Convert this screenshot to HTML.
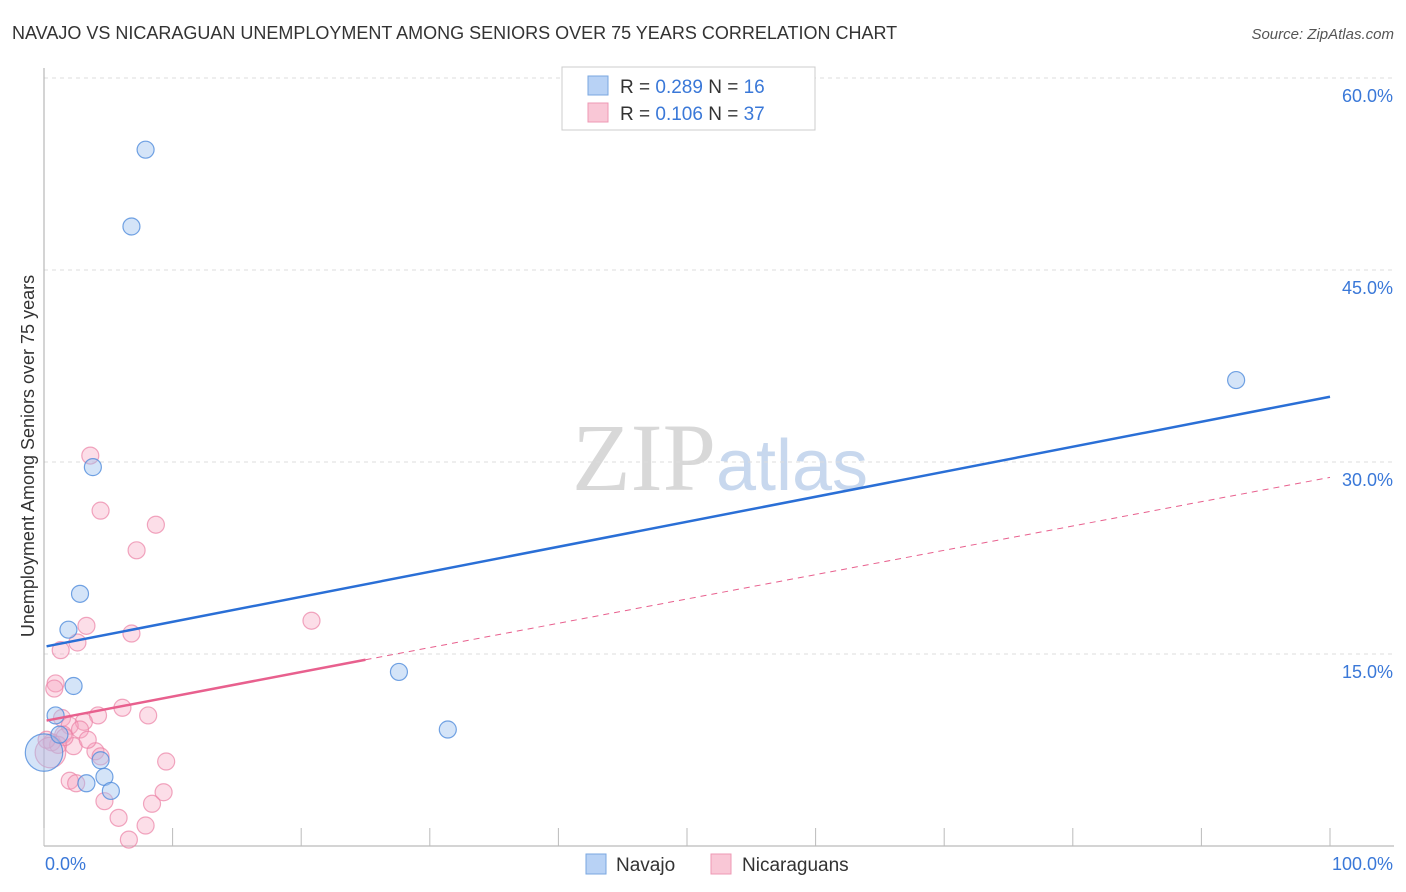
<!DOCTYPE html>
<html><head><meta charset="utf-8"><style>
body{margin:0;background:#fff;font-family:"Liberation Sans",sans-serif;}
#wrap{position:relative;width:1406px;height:892px;overflow:hidden;}
</style></head><body>
<div id="wrap">
<svg id="svg" width="1406" height="892" xmlns="http://www.w3.org/2000/svg">
<text x="12" y="39" font-size="18" fill="#333">NAVAJO VS NICARAGUAN UNEMPLOYMENT AMONG SENIORS OVER 75 YEARS CORRELATION CHART</text>
<text x="1394" y="39" font-size="15" fill="#555" font-style="italic" text-anchor="end">Source: ZipAtlas.com</text>
<text x="34" y="456" font-size="18" fill="#333" text-anchor="middle" transform="rotate(-90 34 456)">Unemployment Among Seniors over 75 years</text>
<text x="720" y="490" font-size="96" fill="#ddd" text-anchor="middle" font-family="Liberation Serif,serif"><tspan fill="#d8d8d8">ZIP</tspan><tspan fill="#c8d8ee" font-family="Liberation Sans,sans-serif" font-size="72">atlas</tspan></text>
<g id="grid"></g><g id="marks"></g>
<g>
<rect x="562" y="67" width="253" height="63" fill="#fff" stroke="#ccc"/>
<rect x="588" y="76" width="20" height="19" fill="#b8d2f5" stroke="#7aa7e0"/>
<rect x="588" y="103" width="20" height="19" fill="#f9c7d6" stroke="#ee99b4"/>
<text x="620" y="93" font-size="19" fill="#333">R = <tspan fill="#3a78d8">0.289</tspan>   N = <tspan fill="#3a78d8">16</tspan></text>
<text x="620" y="120" font-size="19" fill="#333">R = <tspan fill="#3a78d8">0.106</tspan>   N = <tspan fill="#3a78d8">37</tspan></text>
</g>
<g>
<rect x="586" y="854" width="20" height="20" fill="#b8d2f5" stroke="#7aa7e0"/>
<text x="616" y="871" font-size="19" fill="#333">Navajo</text>
<rect x="711" y="854" width="20" height="20" fill="#f9c7d6" stroke="#ee99b4"/>
<text x="742" y="871" font-size="19" fill="#333">Nicaraguans</text>
</g>
</svg>
</div>
<script>
const yTicks=[15,30,45,60];
const yTickLabels=["15.0%","30.0%","45.0%","60.0%"];
const xTicks=[0,10,20,30,40,50,60,70,80,90,100];
const xEndLabels=["0.0%","100.0%"];
const navajoX=[7.9,6.8,3.8,2.8,1.9,2.3,0.9,92.7,27.6,31.4,4.4,4.7,3.3,5.2,0,1.2];
const navajoY=[54.4,48.4,29.6,19.7,16.9,12.5,10.2,36.4,13.6,9.1,6.7,5.4,4.9,4.3,7.3,8.7];
const navajoSize=[1,1,1,1,1,1,1,1,1,1,1,1,1,1,2.2,1];
const nicX=[3.6,4.4,8.7,7.2,3.3,6.8,20.8,2.6,1.3,0.9,0.8,1.4,4.2,6.1,8.1,3.1,2.0,1.5,0.6,2.3,1.1,4.0,9.5,4.4,2.0,2.5,4.7,9.3,8.4,5.8,7.9,6.6,0.2,1.6,2.8,0.5,3.4];
const nicY=[30.5,26.2,25.1,23.1,17.2,16.6,17.6,15.9,15.3,12.7,12.3,10.0,10.2,10.8,10.2,9.7,9.4,8.7,8.1,7.8,7.9,7.4,6.6,7.0,5.1,4.9,3.5,4.2,3.3,2.2,1.6,0.5,8.3,8.5,9.1,7.3,8.3];
const nicSize=[1,1,1,1,1,1,1,1,1,1,1,1,1,1,1,1,1,1,1,1,1,1,1,1,1,1,1,1,1,1,1,1,1,1,1,1.8,1];
const navajoTrend=[15.6,35.1];
const nicTrend=[9.8,28.8];
const nicSolidEnd=25;

const X=v=>44+v*12.86, Y=v=>846-v*12.8;
const NS="http://www.w3.org/2000/svg";
function mk(tag,attrs,parent){const e=document.createElementNS(NS,tag);for(const k in attrs)e.setAttribute(k,attrs[k]);parent.appendChild(e);return e;}
const grid=document.getElementById('grid'), marks=document.getElementById('marks');
yTicks.forEach((t,i)=>{
 const l=mk('line',{x1:44,x2:1394,y1:Y(t),y2:Y(t),stroke:'#ddd','stroke-dasharray':'4,4'},grid);
 
 
 const tx=mk('text',{x:1393,y:Y(t)+24,'font-size':18,fill:'#3a78d8','text-anchor':'end'},grid);
 tx.textContent=yTickLabels[i];
 
 
});
const ax=mk('line',{x1:44,x2:44,y1:68,y2:846,stroke:'#aaa'},grid);


const bx=mk('line',{x1:44,x2:1394,y1:846,y2:846,stroke:'#aaa'},grid);


xTicks.forEach(t=>{
 const l=mk('line',{x1:X(t),x2:X(t),y1:828,y2:846,stroke:'#bbb'},grid);
 
 
});
[[0,'start',45],[100,'end',1393]].forEach((d,i)=>{
 const tx=mk('text',{x:d[2],y:870,'font-size':18,fill:'#3a78d8','text-anchor':d[1]},grid);
 tx.textContent=xEndLabels[i];
 
 
});
nicX.forEach((x,i)=>{
 const c=mk('circle',{cx:X(x),cy:Y(nicY[i]),r:8.5*nicSize[i],fill:'rgba(245,160,190,0.35)',stroke:'rgba(235,130,165,0.7)','stroke-width':1.2},marks);
 
 
});
navajoX.forEach((x,i)=>{
 const c=mk('circle',{cx:X(x),cy:Y(navajoY[i]),r:8.5*navajoSize[i],fill:'rgba(160,195,240,0.45)',stroke:'rgba(80,140,220,0.8)','stroke-width':1.2},marks);
 
 
});
const bt=mk('line',{x1:X(0.2),y1:Y(navajoTrend[0]),x2:X(100),y2:Y(navajoTrend[1]),stroke:'#2a6fd6','stroke-width':2.5},marks);


const nAt=v=>nicTrend[0]+(nicTrend[1]-nicTrend[0])*v/100;
const pt=mk('line',{x1:X(0.2),y1:Y(nicTrend[0]),x2:X(nicSolidEnd),y2:Y(nAt(nicSolidEnd)),stroke:'#e8608e','stroke-width':2.5},marks);


const pd=mk('line',{x1:X(nicSolidEnd),y1:Y(nAt(nicSolidEnd)),x2:X(100),y2:Y(nicTrend[1]),stroke:'#e8608e','stroke-width':1,'stroke-dasharray':'6,5'},marks);


</script>
</body></html>
